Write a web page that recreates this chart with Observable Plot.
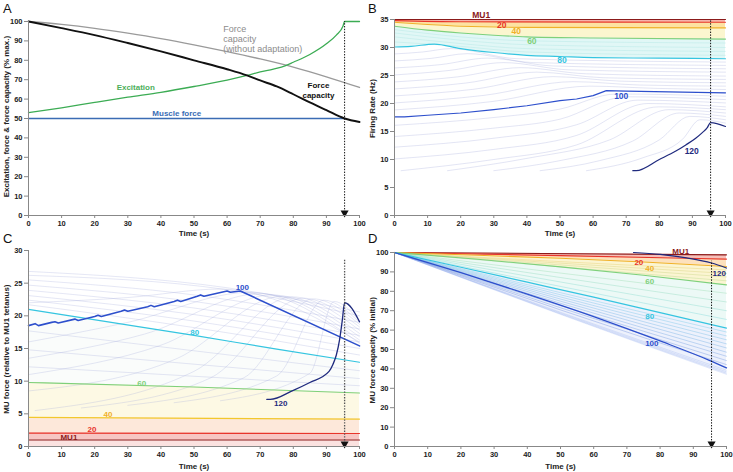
<!DOCTYPE html>
<html><head><meta charset="utf-8">
<script src="https://cdn.jsdelivr.net/npm/d3@7"></script>
<script src="https://cdn.jsdelivr.net/npm/@observablehq/plot@0.6"></script>
<style>
body{margin:0;background:#fff;}
#root{position:relative;width:733px;height:472px;overflow:hidden;background:#fff;}
.panel{position:absolute;}
[aria-label="x-axis tick"],[aria-label="y-axis tick"]{stroke:#888;}
#letters{position:absolute;left:0;top:0;pointer-events:none;}
</style></head><body><div id="root"></div>
<script>
// ---------- shared ----------
const xTicks = [0,10,20,30,40,50,60,70,80,90,100];
const yTicksA = [0,10,20,30,40,50,60,70,80,90,100];
const yTicksB = [0,5,10,15,20,25,30,35];
const yTicksC = [0,5,10,15,20,25,30];
const yTicksD = [0,10,20,30,40,50,60,70,80,90,100];
const taskEnd = 95.5;
const muIds = [1,20,40,60,80,100,120];
const muNames = ["MU1","20","40","60","80","100","120"];
const muColors = ["#8b1a1a","#e8352b","#f0b028","#7fd07a","#35c5e0","#2d4fcc","#1f2a7e"];

// ---------- Panel A ----------
const A_capacityNoAdapt = [[0,100],[10,98.5],[20,96.5],[30,94],[40,91.2],[50,88],[60,84.5],[70,80.7],[80,76.5],[90,71.5],[100,66]];
const A_capacity = [[0,100],[10,96.6],[20,93],[30,88.9],[40,84.6],[50,80],[60,75.4],[66,72.2],[70,69.6],[75,66.5],[80,62.5],[85,58.3],[90,54.3],[95.5,50],[100,48.2]];
const A_excitation = [[0,53],[10,55.5],[20,58.3],[30,61],[40,63.5],[50,66.5],[60,69.8],[66,72.2],[70,74],[74,75.5],[77.7,77.3],[80,79],[85,83],[90,88.5],[93,93],[95,97.5],[95.5,100],[100,100]];
const A_muscleForce = [[0,50],[95.5,50]];

// ---------- Panel B (firing rate, Hz) ----------
const B_mu1 = [[0,35],[100,35]];
const B_mu20 = [[0,34.8],[20,34.6],[100,34.5]];
const B_mu40 = [[0,34.5],[10,34.1],[20,33.8],[40,33.6],[100,33.5]];
const B_mu60 = [[0,33.8],[10,33.1],[20,32.6],[30,32.2],[40,31.9],[60,31.7],[100,31.5]];
const B_mu80 = [[0,30.1],[5,30.2],[12,30.6],[20,29.8],[30,29.1],[40,28.6],[50,28.4],[60,28.2],[80,28.1],[100,28]];
const B_mu100 = [[0,17.6],[3,17.6],[10,17.9],[20,18.3],[30,18.9],[40,19.6],[50,20.5],[55,20.8],[60,21.4],[64,22.3],[70,22.2],[100,21.9]];
const B_mu120 = [[72,8],[73,8],[80,10],[85,11.5],[88,12.6],[91,13.8],[93,14.8],[94.5,15.7],[95.5,16.6],[100,15.9]];
const B_faint = [
  [64,[[0,33.2],[20,31.9],[40,31.2],[100,30.8]]],
  [68,[[0,32.6],[20,31.3],[40,30.5],[100,30.0]]],
  [72,[[0,31.9],[20,30.7],[40,29.8],[100,29.3]]],
  [76,[[0,31.0],[20,30.2],[40,29.2],[100,28.6]]],
  [82,[[0,28.85],[8.5,29.2],[17,29.8],[37,28.0],[100,27.4]]],
  [84,[[0,27.6],[11,28.05],[22,28.9],[42,27.3],[100,26.8]]],
  [86,[[0,26.35],[14,26.95],[28,28.1],[48,26.7],[100,26.2]]],
  [88,[[0,25.1],[16.5,25.9],[33,27.3],[53,26.0],[100,25.6]]],
  [90,[[0,23.85],[19,24.75],[38,26.4],[58,25.3],[100,24.9]]],
  [92,[[0,22.6],[21.5,23.65],[43,25.6],[63,24.6],[100,24.3]]],
  [94,[[0,21.35],[24,22.55],[48,24.8],[68,24.0],[100,23.7]]],
  [96,[[0,20.1],[27,21.45],[54,23.9],[74,23.3],[100,23.1]]],
  [98,[[0,18.85],[29.5,20.35],[59,23.1],[79,22.7],[100,22.5]]],
  [102,[[0,16.1],[30,17.5],[50,19.0],[67,21.7],[100,21.3]]],
  [104,[[0,14.1],[30,15.6],[50,17.2],[70,21.2],[100,20.7]]],
  [106,[[0,12.2],[30,13.8],[55,16.2],[73.5,20.6],[100,20.1]]],
  [108,[[0,10.1],[30,11.8],[55,14.3],[76.6,20.0],[100,19.4]]],
  [110,[[2,8],[30,10.0],[55,12.6],[79.8,19.4],[100,18.9]]],
  [112,[[16,8],[40,10.2],[65,13.5],[82.9,18.9],[100,18.3]]],
  [114,[[30,8],[50,9.8],[72,13.3],[86,18.3],[100,17.7]]],
  [116,[[44,8],[62,9.8],[80,13.5],[89.2,17.7],[100,17.1]]],
  [118,[[58,8],[75,10.3],[87,13.6],[92.3,17.1],[100,16.5]]]
];
const B_labelPos = [[26.2,35.8],[32.4,33.9],[36.8,32.9],[41.5,31.1],[50.6,27.7],[68.5,21.3],[89.8,11.4]];

// ---------- Panel C (MU force, relative to MU1 tetanus) ----------
const C_mu1 = [[0,1],[100,1]];
const C_mu20 = [[0,2.05],[100,2.0]];
const C_mu40 = [[0,4.45],[100,4.2]];
const C_mu60 = [[0,9.8],[50,9.1],[100,8.2]];
const C_mu80 = [[0,21],[25,19],[50,17.0],[75,14.9],[100,12.9]];
const C_mu100 = [[0,18.5],[2,18.8],[3,18.5],[7,19.0],[8,19.1],[9,18.9],[14,19.5],[15,19.3],[20,19.9],[21,20.1],[22,19.9],[28,20.7],[29,20.9],[30,20.7],[36,21.4],[37,21.6],[38,21.4],[44,22.2],[45,22.4],[46,22.2],[51,23.0],[52,23.2],[53,23.0],[59,23.7],[60,23.8],[61,23.6],[64,23.8],[100,15.4]];
const C_mu120 = [[72,7.2],[73,7.2],[80,8.6],[85,9.8],[90.8,11.5],[92,12.6],[93,14.0],[94,16.4],[94.8,19.3],[95.5,22.0],[100,19.1]];
const C_faint = [
  [65,[[0,12.2],[100,9.3]]],
  [70,[[0,14.8],[100,10.4]]],
  [75,[[0,17.7],[100,11.6]]],
  [82,[[0,21.7],[50,18.2],[100,14.0]]],
  [84,[[0,22.4],[50,19.2],[100,15.0]]],
  [86,[[0,23.1],[50,20.2],[100,16.0]]],
  [88,[[0,23.9],[50,21.2],[100,17.0]]],
  [90,[[0,24.7],[50,22.2],[100,18.0]]],
  [92,[[0,25.5],[50,23.2],[100,19.0]]],
  [94,[[0,26.2],[60,24.0],[100,20.0]]],
  [96,[[0,26.8],[60,24.3],[100,20.6]]],
  [98,[[0,22.0],[30,22.8],[58,24.1],[100,16.0]]],
  [102,[[0,16.0],[30,19.0],[67,23.6],[100,15.8]]],
  [104,[[0,13.5],[35,17.2],[70,23.4],[100,16.3]]],
  [106,[[0,11.0],[40,15.5],[73.5,23.2],[100,16.8]]],
  [108,[[0,8.5],[45,13.5],[76.6,23.0],[100,17.3]]],
  [110,[[2,5.5],[50,11.5],[79.8,22.9],[100,17.8]]],
  [112,[[16,5.9],[55,10.5],[82.9,22.7],[100,18.3]]],
  [114,[[30,6.3],[65,10.5],[86,22.6],[100,18.7]]],
  [116,[[44,6.7],[75,10.8],[89.2,22.4],[100,19.0]]],
  [118,[[58,7.0],[85,11.2],[92.3,22.2],[100,19.2]]]
];
const C_labelPos = [[12.2,1.45],[19.2,2.56],[24,4.95],[34.2,9.7],[50.2,17.4],[64.6,24.4],[76.2,6.6]];

// ---------- Panel D (MU force capacity, % initial) ----------
const D_mu1 = [[0,100],[100,98.8]];
const D_mu20 = [[0,100],[50,98.4],[100,96.6]];
const D_mu40 = [[0,100],[25,98.6],[50,97.0],[75,95.1],[100,92.8]];
const D_mu60 = [[0,100],[25,96.5],[50,92.6],[75,88.3],[100,83.3]];
const D_mu80 = [[0,100],[20,92.4],[40,84.7],[60,77.0],[80,69.0],[100,61]];
const D_mu100 = [[0,100],[20,89.6],[40,78.6],[60,67],[80,54.4],[95,44.3],[100,40.5]];
const D_mu120 = [[72,100],[80,99],[88,97.2],[95.5,94.6],[100,92]];
const D_faint = [
  [44,[[0,100],[50,95.3],[100,91.0]]],
  [48,[[0,100],[50,94.5],[100,89.2]]],
  [52,[[0,100],[50,93.6],[100,87.4]]],
  [56,[[0,100],[50,92.6],[100,85.4]]],
  [64,[[0,100],[50,89.4],[100,79.0]]],
  [68,[[0,100],[50,87.1],[100,74.5]]],
  [72,[[0,100],[50,84.8],[100,70.0]]],
  [76,[[0,100],[50,82.5],[100,65.5]]],
  [82,[[0,100],[50,79.3],[100,59.0]]],
  [84,[[0,100],[50,78.2],[100,57.0]]],
  [86,[[0,100],[50,77.1],[100,55.0]]],
  [88,[[0,100],[50,76.0],[100,52.9]]],
  [90,[[0,100],[50,74.9],[100,50.8]]],
  [92,[[0,100],[50,73.8],[100,48.6]]],
  [94,[[0,100],[50,72.6],[100,46.5]]],
  [96,[[0,100],[50,71.5],[100,44.3]]],
  [98,[[0,100],[50,70.4],[100,42.2]]],
  [104,[[0,100],[50,69.2],[100,39.3]]],
  [108,[[0,100],[50,68.8],[100,38.5]]],
  [112,[[0,100],[50,68.4],[100,37.8]]],
  [116,[[0,100],[50,68.1],[100,37.2]]]
];
const D_labelPos = [[86.2,100.5],[73.6,95.0],[76.9,91.9],[76.9,85.1],[76.9,67.1],[77.5,53.2],[97.8,89.3]];

// ---------- helpers ----------
const rows = (pts, mu) => pts.map(([x, y]) => ({x, y, mu}));
const muColor = d3.scaleLinear().domain(muIds).range(muColors).interpolate(d3.interpolateRgb);
const axisGray = "#888";
const FONT = "'Liberation Sans', Arial, Helvetica, sans-serif";

function line(pts, stroke, w = 1, curve = "monotone-x", extra = {}) {
  return Plot.line(rows(pts), {x: "x", y: "y", stroke, strokeWidth: w, curve, ...extra});
}
function under(pts, fill) {
  return Plot.areaY(rows(pts), {x: "x", y: "y", fill, curve: "monotone-x"});
}
function faint(list, colorFn, opacity, w = 0.6) {
  const data = list.flatMap(([mu, pts]) => rows(pts, mu));
  return Plot.line(data, {x: "x", y: "y", z: "mu", stroke: d => colorFn(d.mu), strokeOpacity: opacity, strokeWidth: w, curve: "monotone-x"});
}
function muLabels(pos, size = 8) {
  const data = pos.map(([x, y], i) => ({x, y, t: muNames[i], c: muColors[i]}));
  return Plot.text(data, {x: "x", y: "y", text: "t", fill: "c", fontSize: size, fontWeight: "bold"});
}
function endMarker(top, stroke = "#111", w = 1) {
  return [
    Plot.ruleX([taskEnd], {y1: 0, y2: top, stroke, strokeWidth: w, strokeDasharray: "1.4,1.4"}),
    Plot.dot([{x: taskEnd, y: 0}], {x: "x", y: "y", symbol: "triangle", r: 3, rotate: 180, fill: "#111", stroke: "none", dy: -2.6})
  ];
}

function panel(cfg) {
  const svg = Plot.plot({
    width: cfg.w, height: cfg.h,
    marginTop: cfg.mt, marginRight: cfg.mr, marginBottom: cfg.mb, marginLeft: cfg.ml,
    x: {domain: [0, 100]},
    y: {domain: cfg.yDomain},
    color: {type: "identity"},
    style: {background: "transparent", overflow: "visible", fontFamily: FONT, fontWeight: "bold", color: "#222"},
    marks: [
      ...cfg.marks,
      Plot.ruleX([0], {stroke: axisGray}),
      Plot.ruleY([0], {stroke: axisGray}),
      Plot.axisX(xTicks, {label: null, tickSize: 3, tickPadding: 2, fontSize: 7.5}),
      Plot.axisY(cfg.yTicks, {label: null, tickSize: 4, tickPadding: 2, fontSize: 7.5}),
      Plot.text(["Time (s)"], {frameAnchor: "bottom", lineAnchor: "middle", dy: cfg.xTitleDy, fontSize: 8, fontWeight: "bold", fill: "#222"}),
      Plot.text([cfg.yTitle], {frameAnchor: "left", y: cfg.yTitleY, rotate: -90, textAnchor: "middle", lineAnchor: "middle", dx: -22.5, fontSize: 8, fontWeight: "bold", fill: "#222"})
    ]
  });
  const div = document.createElement("div");
  div.className = "panel";
  div.style.left = cfg.left + "px";
  div.style.top = cfg.top + "px";
  div.style.width = cfg.w + "px";
  div.style.height = cfg.h + "px";
  div.appendChild(svg);
  return div;
}

const root = document.getElementById("root");

// Panel A
root.appendChild(panel({
  left: 0, top: 0, w: 366, h: 240, mt: 21, mr: 7, mb: 25, ml: 28,
  yDomain: [0, 100], yTicks: yTicksA, xTitleDy: 18,
  yTitle: "Excitation, force & force capacity (% max.)", yTitleY: 51,
  marks: [
    line(A_capacityNoAdapt, "#9a9a9a", 1.3),
    line(A_excitation, "#3cac54", 1.3),
    line(A_muscleForce, "#3b6cb4", 1.4, "linear"),
    line(A_capacity, "#111", 1.9),
    ...endMarker(100),
    Plot.text(["Force\ncapacity\n(without adaptation)"], {x: () => 58.8, y: () => 98.4, textAnchor: "start", lineAnchor: "top", lineHeight: 1.12, fontSize: 9, fontWeight: "normal", fill: "#8c8c8c"}),
    Plot.text(["Excitation"], {x: () => 32.4, y: () => 66, fontSize: 8, fontWeight: "bold", fill: "#4caf5a"}),
    Plot.text(["Muscle force"], {x: () => 44.8, y: () => 52.7, fontSize: 8, fontWeight: "bold", fill: "#3a6db5"}),
    Plot.text(["Force\ncapacity"], {x: () => 87.6, y: () => 64.9, lineHeight: 1.28, fontSize: 8, fontWeight: "bold", fill: "#111"})
  ]
}));

// Panel B
const fadeB = mu => mu < 80 ? "#86d9d6" : "#8a92d2";
root.appendChild(panel({
  left: 366, top: 0, w: 367, h: 240, mt: 19, mr: 8, mb: 25, ml: 28,
  yDomain: [0, 35], yTicks: yTicksB, xTitleDy: 18,
  yTitle: "Firing Rate (Hz)", yTitleY: 19.1,
  marks: [
    under(B_mu1, "#f5b3ac"),
    under(B_mu20, "#fde2a2"),
    under(B_mu40, "#fbf6cf"),
    under(B_mu60, "#e1f7f6"),
    under(B_mu80, "#ffffff"),
    faint(B_faint, fadeB, 0.4),
    line(B_mu1, muColors[0], 1.1),
    line(B_mu20, muColors[1], 1.1),
    line(B_mu40, muColors[2], 1.1),
    line(B_mu60, muColors[3], 1.1),
    line(B_mu80, muColors[4], 1.1),
    line(B_mu100, muColors[5], 1.2, "linear"),
    line(B_mu120, muColors[6], 1.2),
    ...endMarker(35),
    muLabels(B_labelPos, 8.5)
  ]
}));

// Panel C
const fadeC = mu => "#9ea4d8";
root.appendChild(panel({
  left: 0, top: 236, w: 366, h: 236, mt: 14, mr: 7, mb: 26, ml: 28,
  yDomain: [0, 30], yTicks: yTicksC, xTitleDy: 20,
  yTitle: "MU force (relative to MU1 tetanus)", yTitleY: 14.9,
  marks: [
    under(C_mu80, "#fafcfb"),
    under(C_mu60, "#fdf9e4"),
    under(C_mu40, "#fde8da"),
    under(C_mu20, "#f7c6c3"),
    under(C_mu1, "#fbe2e0"),
    faint(C_faint, fadeC, 0.45),
    line(C_mu1, muColors[0], 1.1),
    line(C_mu20, muColors[1], 1.1),
    line(C_mu40, "#f2c82c", 1.2),
    line(C_mu60, muColors[3], 1.1),
    line(C_mu80, muColors[4], 1.2),
    line(C_mu100, muColors[5], 1.6, "linear"),
    line(C_mu120, muColors[6], 1.3),
    ...endMarker(28.6, "#555", 1.3),
    muLabels(C_labelPos, 8)
  ]
}));

// Panel D
const fadeD = mu => mu <= 100 ? muColor(mu) : "#8fa8ec";
root.appendChild(panel({
  left: 366, top: 236, w: 367, h: 236, mt: 16, mr: 7, mb: 26, ml: 28,
  yDomain: [0, 100], yTicks: yTicksD, xTitleDy: 20,
  yTitle: "MU force capacity (% initial)", yTitleY: 49.6,
  marks: [
    under(D_mu1, "#f6c0ba"),
    under(D_mu20, "#fde1bd"),
    under(D_mu40, "#fbf5d2"),
    under(D_mu60, "#ecf9f6"),
    under(D_mu80, "#edf1fc"),
    under(D_faint[D_faint.length - 1][1], "#ffffff"),
    faint(D_faint, fadeD, 0.45),
    line(D_mu1, muColors[0], 1.1),
    line(D_mu20, muColors[1], 1.1),
    line(D_mu40, muColors[2], 1.1),
    line(D_mu60, muColors[3], 1.1),
    line(D_mu80, muColors[4], 1.2),
    line(D_mu100, muColors[5], 1.3),
    line(D_mu120, muColors[6], 1.2),
    ...endMarker(95.5),
    muLabels(D_labelPos, 8)
  ]
}));

// panel letters
const ns = "http://www.w3.org/2000/svg";
const letters = document.createElementNS(ns, "svg");
letters.setAttribute("id", "letters");
letters.setAttribute("width", 733);
letters.setAttribute("height", 472);
[["A", 3, 12.5], ["B", 368, 12.5], ["C", 3, 243], ["D", 368, 242.5]].forEach(([t, x, y]) => {
  const el = document.createElementNS(ns, "text");
  el.setAttribute("x", x);
  el.setAttribute("y", y);
  el.setAttribute("font-family", FONT);
  el.setAttribute("font-size", 13);
  el.setAttribute("fill", "#111");
  el.textContent = t;
  letters.appendChild(el);
});
root.appendChild(letters);
</script></body></html>
